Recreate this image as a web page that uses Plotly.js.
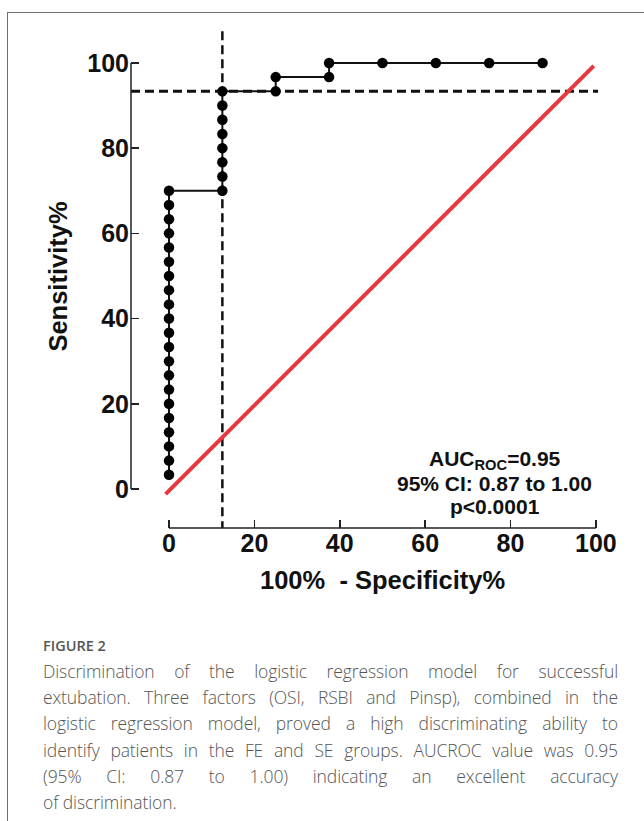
<!DOCTYPE html>
<html>
<head>
<meta charset="utf-8">
<script src="https://cdn.plot.ly/plotly-3.0.1.min.js"></script>
<style>
  html, body { margin: 0; padding: 0; background: #fff; width: 644px; height: 821px; overflow: hidden; }
  #frame { position: absolute; left: 7px; top: 12px; width: 660px; height: 830px;
           border-top: 1.5px solid #6e6e6e; border-left: 1.5px solid #6e6e6e; }
  #plot { position: absolute; left: 0; top: 0; width: 644px; height: 620px; }
  #caption { position: absolute; left: 43px; top: 634px; width: 575px;
             font-family: "Open Sans", "Noto Sans", sans-serif; color: #555; }
  #caption .fig { font-size: 14.5px; line-height: 24px; color: #555; font-weight: 600; }
  #caption .ln { font-size: 17.5px; line-height: 26.2px; text-align: justify; text-align-last: justify; white-space: nowrap; font-weight: 300; letter-spacing: -0.1px; }
  #caption .ln.last { text-align-last: left; }
</style>
</head>
<body>
<div id="frame"></div>
<div id="plot"></div>
<div id="caption">
  <div class="fig">FIGURE 2</div>
  <div class="ln">Discrimination of the logistic regression model for successful</div>
  <div class="ln">extubation. Three factors (OSI, RSBI and Pinsp), combined in the</div>
  <div class="ln">logistic regression model, proved a high discriminating ability to</div>
  <div class="ln">identify patients in the FE and SE groups. AUCROC value was 0.95</div>
  <div class="ln">(95% CI: 0.87 to 1.00) indicating an excellent accuracy</div>
  <div class="ln last">of discrimination.</div>
</div>
<script>
// ROC curve points (100% - Specificity%, Sensitivity%)
const fpr = [0,0,0,0,0,0,0,0,0,0,0,0,0,0,0,0,0,0,0,0,0,
             12.5,12.5,12.5,12.5,12.5,12.5,12.5,12.5,
             25,25,37.5,37.5,50,62.5,75,87.5];
const tpr = [3.33,6.67,10,13.33,16.67,20,23.33,26.67,30,33.33,36.67,40,43.33,46.67,50,53.33,56.67,60,63.33,66.67,70,
             70,73.33,76.67,80,83.33,86.67,90,93.33,
             93.33,96.67,96.67,100,100,100,100,100];
// reference (chance) line as drawn
const diagX = [-0.8, 99.5];
const diagY = [-1.2, 99.3];
// optimal cutoff
const cutoffX = 12.5;
const cutoffY = 93.33;
// tick values
const tickVals = [0, 20, 40, 60, 80, 100];
const tickText = ['0', '20', '40', '60', '80', '100'];
const statsText = ['AUC<sub>ROC</sub>=0.95', '95% CI: 0.87 to 1.00', 'p<0.0001'];

const xr = [-8.9, 103.3];
const yr = [-9.15, 108.9];
const ff = 'Liberation Sans, Arial, sans-serif';
const tickFont = {family: ff, size: 25, color: '#111', weight: 'bold'};
const titleFont = {family: ff, size: 25.5, color: '#111', weight: 'bold'};
const statFont = {family: ff, size: 21, color: '#111', weight: 'bold'};

const traces = [
  {x: diagX, y: diagY, mode: 'lines', line: {color: '#e8383d', width: 4}, hoverinfo: 'skip'},
  {x: fpr, y: tpr, mode: 'lines+markers', line: {color: '#111', width: 2, shape: 'linear'},
   marker: {color: '#000', size: 10.5}}
];

const statsY = [6.8, 1.4, -4.0];
const statAnns = statsText.map((t, i) => ({xref: 'x', yref: 'y', x: 76.3, y: statsY[i], showarrow: false,
  text: t, font: statFont}));

const layout = {
  width: 644, height: 620,
  margin: {l: 131, r: 34, t: 25, b: 92},
  paper_bgcolor: 'rgba(0,0,0,0)', plot_bgcolor: 'rgba(0,0,0,0)',
  showlegend: false,
  xaxis: {range: xr, tickvals: tickVals, ticktext: tickText, ticks: 'inside', ticklen: 8, tickwidth: 1.5,
          tickcolor: '#222', showline: false, showgrid: false, zeroline: false, tickfont: tickFont,
          ticklabelstandoff: -2, fixedrange: true},
  yaxis: {range: yr, tickvals: tickVals, ticktext: tickText, ticks: 'inside', ticklen: 8, tickwidth: 1.5,
          tickcolor: '#222', showline: false, showgrid: false, zeroline: false, tickfont: tickFont,
          ticklabelstandoff: 1,
          title: {text: 'Sensitivity%', font: titleFont, standoff: 12}, fixedrange: true},
  shapes: [
    // detached axis lines
    {type: 'line', xref: 'x', yref: 'paper', x0: 0, x1: 100, y0: 0, y1: 0, line: {color: '#222', width: 1.5}},
    {type: 'line', xref: 'paper', yref: 'y', x0: 0, x1: 0, y0: 0, y1: 100, line: {color: '#222', width: 1.5}},
    // cutoff dashed lines
    {type: 'line', xref: 'x', yref: 'y', x0: xr[0], x1: 100.5, y0: cutoffY, y1: cutoffY,
     line: {color: '#111', width: 3, dash: '9px,5px'}, layer: 'below'},
    {type: 'line', xref: 'x', yref: 'y', x0: cutoffX, x1: cutoffX, y0: yr[0] - 0.5, y1: 107.7,
     line: {color: '#111', width: 2.5, dash: '9px,5px'}, layer: 'below'}
  ],
  annotations: [
    {xref: 'x', yref: 'paper', x: 50, y: 0, yshift: -36, yanchor: 'top', showarrow: false,
     text: '100%  - Specificity%', font: titleFont}
  ].concat(statAnns)
};

Plotly.newPlot('plot', traces, layout, {displayModeBar: false, staticPlot: true});
</script>
</body>
</html>
